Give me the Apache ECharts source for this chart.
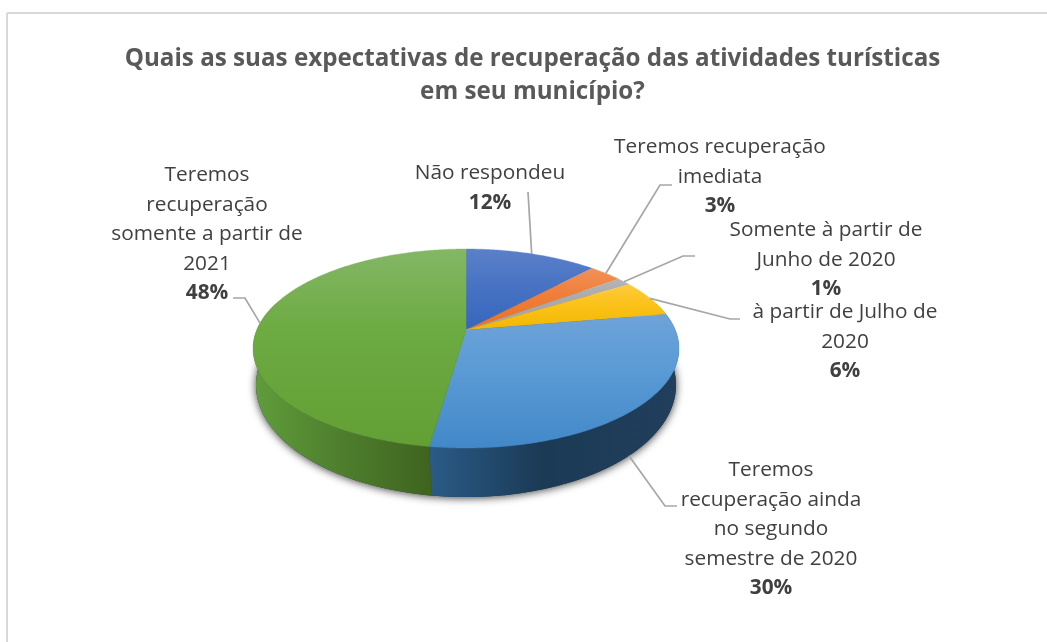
<!DOCTYPE html>
<html>
<head>
<meta charset="utf-8">
<style>html,body{margin:0;padding:0;background:#fff}#c{width:1047px;height:642px}</style>
<script src="https://cdn.jsdelivr.net/npm/echarts@6/dist/echarts.min.js"></script>
</head>
<body>
<div id="c"></div>
<script>
// Data (labels show the rounded share)
const categories = [
  'Não respondeu',
  'Teremos recuperação\nimediata',
  'Somente à partir de\nJunho de 2020',
  'à partir de Julho de\n2020',
  'Teremos\nrecuperação ainda\nno segundo\nsemestre de 2020',
  'Teremos\nrecuperação\nsomente a partir de\n2021'
];
const values = [12, 3, 1.3, 6, 30, 47.7];

// Styling
const topColors = [
  ['#5b80c9', '#4a74c4', '#3566bd'],
  ['#f2915a', '#f07f3a', '#ed6f1f'],
  ['#b4b4b4', '#aaaaaa', '#a3a3a3'],
  ['#fdcb3f', '#fcc31c', '#f1b700'],
  ['#6ea3d8', '#5b9bd6', '#4288c8'],
  ['#84b766', '#6dab43', '#62a035']
];
const wallColors = [
  ['#1f3a72', '#1f3a72', '#1f3a72'],
  ['#8c4316', '#8c4316', '#8c4316'],
  ['#636363', '#636363', '#636363'],
  ['#977300', '#977300', '#977300'],
  ['#2a5b87', '#1b3a55', '#213f5c'],
  ['#609d3b', '#4f812e', '#3f631f']
];

// Layout: the upper and lower rims are perspective discs projected on screen
const upperDisc = { x0: 466, y0: 330, a: 209.3, b: 96.06, c: -0.186 };
const lowerDisc = { x0: 466, y0: 371.6, a: 208.5, b: 110.4, c: -0.12 };
const labelLayout = [
  { x: 490, y: 158.5, elbow: [[528, 192]] },
  { x: 720, y: 132.5, elbow: [[672, 185], [660, 185]] },
  { x: 826, y: 215.5, elbow: [[695, 256], [683, 256]] },
  { x: 845, y: 297.5, elbow: [[740, 319], [730, 319]] },
  { x: 771, y: 455.5, elbow: [[677, 506], [665, 506]], onBase: true },
  { x: 207, y: 160.5, elbow: [[233, 298], [245, 298]] }
];

function project(theta, lower) {
  const d = lower ? lowerDisc : upperDisc;
  const u = Math.sin(theta), v = -Math.cos(theta);
  const den = 1 + d.c * v;
  return [d.x0 + d.a * u / den, d.y0 + d.b * v / den];
}

const total = values.reduce((p, q) => p + q, 0);
const TAU = Math.PI * 2;
const vGrad = (c) => new echarts.graphic.LinearGradient(0, 0, 0, 1, [
  { offset: 0, color: c[0] }, { offset: 0.4, color: c[1] }, { offset: 1, color: c[2] }
]);
const hGrad = (c) => new echarts.graphic.LinearGradient(0, 0, 1, 0, [
  { offset: 0, color: c[0] }, { offset: 0.45, color: c[1] }, { offset: 1, color: c[2] }
]);

function renderPie() {
  const children = [];

  // soft shadow under the base
  const basePts = [];
  for (let d = 0; d < 360; d += 2) basePts.push(project(d * Math.PI / 180, true));
  children.push({
    type: 'polygon', shape: { points: basePts },
    style: { fill: '#33383c', shadowBlur: 8, shadowColor: 'rgba(0,0,0,0.75)', shadowOffsetY: 1 }
  });

  // side walls
  let acc = 0;
  const spans = values.map((val) => {
    const s = acc / total * TAU; acc += val;
    return [s, acc / total * TAU];
  });
  spans.forEach((sp, i) => {
    const top = [], bottom = [];
    const n = Math.ceil((sp[1] - sp[0]) / 0.01);
    for (let k = 0; k <= n; k++) {
      const t = sp[0] + (sp[1] - sp[0]) * k / n;
      if (-Math.cos(t) < -0.3) continue;
      top.push(project(t, false));
      bottom.unshift(project(t, true));
    }
    if (top.length > 1) {
      children.push({
        type: 'polygon', shape: { points: top.concat(bottom) },
        style: { fill: hGrad(wallColors[i]), stroke: null }
      });
    }
  });

  // top face
  spans.forEach((sp, i) => {
    const pts = [[upperDisc.x0, upperDisc.y0]];
    const n = Math.ceil((sp[1] - sp[0]) / 0.01);
    for (let k = 0; k <= n; k++) pts.push(project(sp[0] + (sp[1] - sp[0]) * k / n, false));
    children.push({
      type: 'polygon', shape: { points: pts },
      style: { fill: vGrad(topColors[i]), stroke: vGrad(topColors[i]), lineWidth: 0.4 }
    });
  });

  // leader lines and labels
  spans.forEach((sp, i) => {
    const lay = labelLayout[i];
    const anchor = project((sp[0] + sp[1]) / 2, !!lay.onBase);
    children.push({
      type: 'polyline', shape: { points: lay.elbow.concat([anchor]) },
      style: { fill: null, stroke: '#a6a6a6', lineWidth: 1.7 }
    });
    const lines = categories[i].split('\n').map((l) => '{t|' + l + '}').join('\n');
    const pct = Math.round(values[i] / total * 100) + '%';
    children.push({
      type: 'text', x: lay.x, y: lay.y,
      style: {
        text: lines + '\n{p|' + pct + '}',
        align: 'center', verticalAlign: 'top',
        rich: {
          t: { fontFamily: 'Open Sans', fontSize: 20.8, lineHeight: 29.5, fill: '#404040', color: '#404040', align: 'center' },
          p: { fontFamily: 'Open Sans', fontSize: 20.8, fontWeight: 'bold', lineHeight: 29.5, fill: '#404040', color: '#404040', align: 'center' }
        }
      }
    });
  });

  return { type: 'group', children };
}

const chart = echarts.init(document.getElementById('c'), null, { renderer: 'canvas' });
chart.setOption({
  animation: false,
  backgroundColor: '#ffffff',
  title: {
    text: 'Quais as suas expectativas de recuperação das atividades turísticas\nem seu município?',
    left: 527.5, top: 38, textAlign: 'center',
    textStyle: { fontFamily: 'Open Sans', fontSize: 24.2, fontWeight: 'bold', color: '#595959', lineHeight: 33 }
  },
  graphic: [
    { type: 'line', silent: true, shape: { x1: 7, y1: 13, x2: 1047, y2: 13 }, style: { stroke: '#d9d9d9', lineWidth: 2 } },
    { type: 'line', silent: true, shape: { x1: 7, y1: 13, x2: 7, y2: 642 }, style: { stroke: '#d9d9d9', lineWidth: 2 } }
  ],
  series: [{
    type: 'custom',
    coordinateSystem: 'none',
    silent: true,
    data: categories.map((name, i) => ({ name, value: values[i] })),
    renderItem: (params) => params.dataIndex === 0 ? renderPie() : { type: 'group', children: [] }
  }]
});
</script>
</body>
</html>
